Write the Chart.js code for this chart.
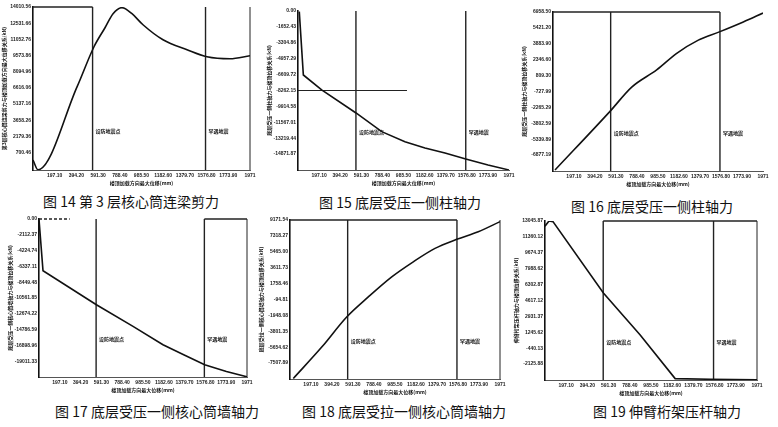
<!DOCTYPE html>
<html>
<head>
<meta charset="utf-8">
<script src="https://cdn.jsdelivr.net/npm/chart.js@4.4.1/dist/chart.umd.min.js"></script>
<style>
    html, body { margin: 0; padding: 0; background: #fff; }
    body { width: 778px; height: 427px; position: relative; overflow: hidden; }
    canvas { position: absolute; }
    .caption {
        position: absolute;
        font-family: "Noto Sans CJK SC", sans-serif;
        font-size: 14px;
        line-height: 14px;
        color: #111;
        white-space: nowrap;
        transform: translateX(-50%);
    }
</style>
</head>
<body>
<canvas id="c14"></canvas>
<canvas id="c15"></canvas>
<canvas id="c16"></canvas>
<canvas id="c17"></canvas>
<canvas id="c18"></canvas>
<canvas id="c19"></canvas>
<div class="caption" style="left:131px;top:194px">图 14 第 3 层核心筒连梁剪力</div>
<div class="caption" style="left:400px;top:195px">图 15 底层受压一侧柱轴力</div>
<div class="caption" style="left:652px;top:199px">图 16 底层受压一侧柱轴力</div>
<div class="caption" style="left:157px;top:404px">图 17 底层受压一侧核心筒墙轴力</div>
<div class="caption" style="left:404px;top:404px">图 18 底层受拉一侧核心筒墙轴力</div>
<div class="caption" style="left:667px;top:404px">图 19 伸臂桁架压杆轴力</div>
<script>
// shared x axis: roof displacement along loading direction
const dispTicks = [197.1, 394.2, 591.3, 788.4, 985.5, 1182.6, 1379.7, 1576.8, 1773.9, 1971];
const dispTitle = "楼顶加载方向最大位移(mm)";
const markLines = [541.2, 1567];
const markNames = ["设防地震点", "罕遇地震"];

// fig 14
const fig14Disp = [0, 45, 400, 554, 654, 727, 808, 899, 999, 1181, 1399, 1580, 1789, 1971];
const fig14Force = [30, -860, 6711, 10380, 12114, 13396, 13950, 13396, 12389, 11015, 10100, 9459, 9276, 9551];
const fig14Ticks = [14010.56, 12531.66, 11052.76, 9573.86, 8094.96, 6616.06, 5137.16, 3658.26, 2179.36, 700.46];
const fig14Min = -882;

// fig 15
const fig15Disp = [12, 50, 221, 542, 782, 999, 1186, 1373, 1567, 1775, 1971];
const fig15Force = [-70, -6650, -8208, -10598, -12541, -13580, -14234, -14754, -15377, -16000, -16520];
const fig15Ticks = [0, -1652.43, -3304.86, -4957.29, -6609.72, -8262.15, -9914.58, -11567.01, -13219.44, -14871.87];
const fig15Min = -16524.3;

// fig 16
const fig16Disp = [19, 535, 739, 973, 1161, 1364, 1561, 1786, 1971];
const fig16Force = [-8318, -2650, -305, 1357, 2961, 4239, 5037, 5998, 6862];
const fig16Ticks = [6958.5, 5421.2, 3883.9, 2346.6, 809.3, -727.99, -2265.29, -3802.59, -5339.89, -6877.19];
const fig16Min = -8414.49;

// fig 17
const fig17Disp = [0, 38, 544, 891, 1175, 1371, 1570, 1776, 1971];
const fig17Force = [-50, -6912, -11458, -14359, -16806, -18143, -19480, -20375, -21100];
const fig17Ticks = [0, -2112.37, -4224.74, -6337.11, -8449.48, -10561.85, -12674.22, -14786.59, -16898.96, -19011.33];
const fig17Min = -21123.7;

// fig 18
const fig18Disp = [31, 298, 532, 735, 955, 1157, 1361, 1565, 1767, 1971];
const fig18Force = [-9300, -5643, -2135, 204, 2542, 4296, 5863, 6915, 7804, 8973];
const fig18Ticks = [9171.54, 7318.27, 5465.0, 3611.73, 1758.46, -94.81, -1948.08, -3801.35, -5654.62, -7507.89];
const fig18Min = -9361.16;

// fig 19
const fig19Disp = [0, 37, 74, 543, 885, 1210, 1536, 1971];
const fig19Force = [12500, 13045, 12980, 5406, 958, -3663, -3735, -3790];
const fig19Ticks = [13045.87, 11360.12, 9674.37, 7988.62, 6302.87, 4617.12, 2931.37, 1245.62, -440.13, -2125.88];
const fig19Min = -3811.63;

// y axis width, x axis height (px)
const Y_W = 32;
const X_H = 16;

// draws the marker lines, partial frame and marker labels
const framePlugin = {
    id: "frame",
    beforeDatasetsDraw(chart, args, opts) {
        const x = chart.scales.x, y = chart.scales.y, a = chart.chartArea;
        const ctx = chart.ctx;
        ctx.save();
        ctx.strokeStyle = "#222";
        ctx.lineWidth = 1.4;
        markLines.forEach(function (m) {
            const px = x.getPixelForValue(m);
            ctx.beginPath();
            ctx.moveTo(px, a.top);
            ctx.lineTo(px, a.bottom);
            ctx.stroke();
        });
        (opts.tops || []).forEach(function (t) {
            ctx.beginPath();
            ctx.setLineDash(t[2] ? [3, 2] : []);
            ctx.moveTo(x.getPixelForValue(t[0]), a.top);
            ctx.lineTo(x.getPixelForValue(t[1]), a.top);
            ctx.stroke();
        });
        ctx.setLineDash([]);
        if (opts.right) {
            ctx.lineWidth = 1;
            ctx.beginPath();
            ctx.moveTo(a.right, a.top);
            ctx.lineTo(a.right, a.bottom);
            ctx.stroke();
        }
        if (opts.hline) {
            const py = y.getPixelForValue(opts.hline[0]);
            ctx.lineWidth = 1;
            ctx.beginPath();
            ctx.moveTo(x.getPixelForValue(opts.hline[1]), py);
            ctx.lineTo(x.getPixelForValue(opts.hline[2]), py);
            ctx.stroke();
        }
        // marker labels
        ctx.fillStyle = "#111";
        ctx.font = "bold 5px 'Noto Sans CJK SC'";
        ctx.textBaseline = "middle";
        const ty = a.top + (a.bottom - a.top) * 0.76;
        markLines.forEach(function (m, i) {
            ctx.fillText(markNames[i], x.getPixelForValue(m) + 3, ty);
        });
        ctx.restore();
    }
};

function buildChart(id, box, disp, force, yTicks, yMin, yTitle, smooth, frame) {
    // box: [axis left, plot top, plot right, plot bottom] in page px
    const canvas = document.getElementById(id);
    const w = Math.round(box[2] - box[0] + Y_W + 6);
    const h = Math.round(box[3] - box[1] + 5 + X_H);
    canvas.style.left = (box[0] - Y_W) + "px";
    canvas.style.top = (box[1] - 5) + "px";
    canvas.style.width = w + "px";
    canvas.style.height = h + "px";
    canvas.width = w;
    canvas.height = h;

    const points = disp.map(function (d, i) { return {x: d, y: force[i]}; });
    const tickFont = {family: "Liberation Sans", size: 5, weight: "bold"};
    const titleFont = {family: "Noto Sans CJK SC", size: 5, weight: "bold"};

    new Chart(canvas.getContext("2d"), {
        type: "line",
        data: {
            datasets: [{
                data: points,
                borderColor: "#111",
                borderWidth: 1.6,
                pointRadius: 0,
                cubicInterpolationMode: smooth ? "monotone" : "default",
                tension: 0,
                fill: false,
            }]
        },
        options: {
            responsive: false,
            animation: false,
            devicePixelRatio: 1,
            layout: {padding: {left: 0, top: 5, right: 6, bottom: 0}},
            plugins: {legend: {display: false}, tooltip: {enabled: false}, frame: frame},
            scales: {
                x: {
                    type: "linear",
                    min: 0,
                    max: 1971,
                    afterBuildTicks: function (s) { s.ticks = dispTicks.map(function (v) { return {value: v}; }); },
                    afterFit: function (s) { s.height = X_H; s.paddingLeft = 0; s.paddingRight = 0; },
                    grid: {display: false, drawTicks: false},
                    border: {color: "#555", width: 1},
                    ticks: {
                        font: tickFont, color: "#222", padding: 3, maxRotation: 0, autoSkip: false,
                        callback: function (v) { return v === 1971 ? "1971" : v.toFixed(2); },
                    },
                    title: {display: true, text: dispTitle, font: titleFont, color: "#111", padding: {top: 2, bottom: 0}},
                },
                y: {
                    type: "linear",
                    min: yMin,
                    max: yTicks[0],
                    afterBuildTicks: function (s) { s.ticks = yTicks.map(function (v) { return {value: v}; }); },
                    afterFit: function (s) { s.width = Y_W; s.paddingTop = 0; s.paddingBottom = 0; },
                    grid: {display: false, drawTicks: false},
                    border: {color: "#111", width: 1.6},
                    ticks: {
                        font: tickFont, color: "#222", padding: 2, autoSkip: false,
                        callback: function (v) { return v.toFixed(2); },
                    },
                    title: {display: true, text: yTitle, font: titleFont, color: "#111", padding: 0},
                },
            },
        },
        plugins: [framePlugin],
    });
}

window.addEventListener("DOMContentLoaded", function () {
    buildChart("c14", [33, 7, 250, 170], fig14Disp, fig14Force, fig14Ticks, fig14Min,
        "第3层核心筒连梁剪力与楼顶加载方向最大位移关系(kN)", true,
        {tops: [[0, markLines[0]]], right: true});
    buildChart("c15", [298, 11, 509, 170], fig15Disp, fig15Force, fig15Ticks, fig15Min,
        "底层受压一侧柱轴力与楼顶位移关系(kN)", false,
        {hline: [-8262.15, 0, 1018]});
    buildChart("c16", [553, 12, 763, 171], fig16Disp, fig16Force, fig16Ticks, fig16Min,
        "底层受压一侧柱轴力与楼顶位移关系(kN)", true,
        {tops: [[0, markLines[1]]]});
    buildChart("c17", [39, 219, 247, 377], fig17Disp, fig17Force, fig17Ticks, fig17Min,
        "底层受压一侧核心筒墙轴力与楼顶位移关系(kN)", false,
        {tops: [[0, 291, true], [markLines[1], 1971]], right: true});
    buildChart("c18", [290, 220, 500, 379], fig18Disp, fig18Force, fig18Ticks, fig18Min,
        "底层受拉一侧核心筒墙轴力与楼顶位移关系(kN)", true,
        {tops: [[0, markLines[1]]], right: true});
    buildChart("c19", [545, 221, 757, 380], fig19Disp, fig19Force, fig19Ticks, fig19Min,
        "伸臂桁架压杆轴力与楼顶位移关系(kN)", false,
        {tops: [[markLines[0], 1971]], right: true});
});
</script>
</body>
</html>
